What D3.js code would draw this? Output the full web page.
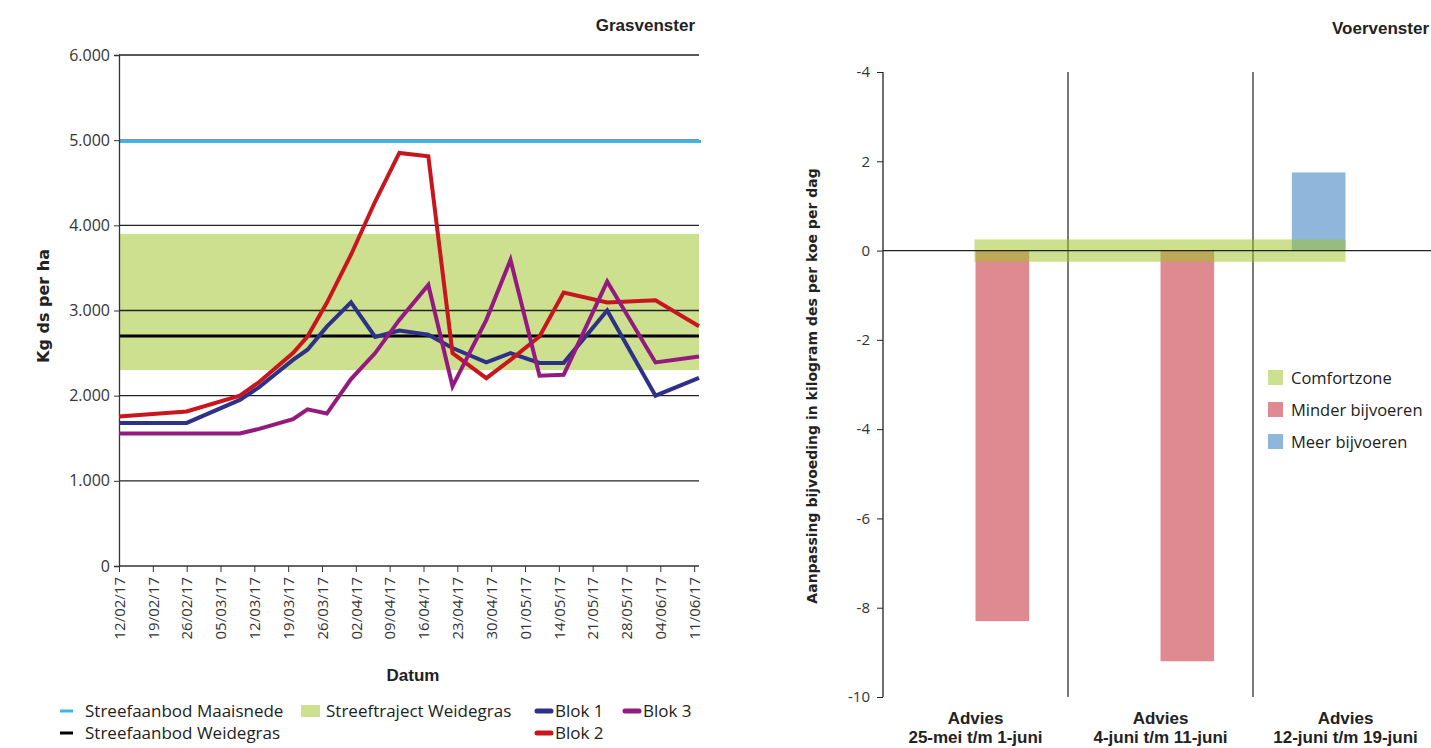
<!DOCTYPE html>
<html>
<head>
<meta charset="utf-8">
<script src="https://cdnjs.cloudflare.com/ajax/libs/d3/7.8.5/d3.min.js"></script>
<style>
  body { margin: 0; background: #fff; }
  svg { display: block; }
  .tick text { font-family: "Open Sans", sans-serif; fill: #333; }
</style>
</head>
<body>
<div id="chart"></div>
<script>
// ---- Grasvenster (left) ----
var meetDatums = ["2017-02-12","2017-02-26","2017-03-09","2017-03-13","2017-03-20","2017-03-23",
  "2017-03-27","2017-04-01","2017-04-06","2017-04-11","2017-04-17","2017-04-22","2017-04-29",
  "2017-05-04","2017-05-10","2017-05-15","2017-05-24","2017-06-03","2017-06-12"];
var blok1 = [1680,1680,1950,2100,2420,2540,2810,3095,2690,2765,2715,2560,2390,2500,2385,2385,3000,2000,2210];
var blok2 = [1755,1815,2000,2160,2500,2695,3090,3655,4280,4850,4810,2500,2205,2420,2695,3210,3095,3120,2815];
var blok3 = [1555,1555,1555,1610,1725,1840,1790,2195,2500,2890,3300,2110,2890,3595,2235,2245,3340,2390,2460];
var xTickLabels = ["12/02/17","19/02/17","26/02/17","05/03/17","12/03/17","19/03/17","26/03/17",
  "02/04/17","09/04/17","16/04/17","23/04/17","30/04/17","01/05/17","14/05/17","21/05/17",
  "28/05/17","04/06/17","11/06/17"];
var yTicksGras = [0,1000,2000,3000,4000,5000,6000];
var streefMaaisnede = 4985;
var streefWeidegras = 2700;
var trajectWeidegras = [2300, 3900];

// ---- Voervenster (right) ----
var adviesCats = ["25-mei t/m 1-juni", "4-juni t/m 11-juni", "12-juni t/m 19-juni"];
var minderBijvoeren = [-8.3, -9.2, 0];
var meerBijvoeren = [0, 0, 1.75];
var comfortzone = [-0.25, 0.25];
var yTicksVoer = [-10,-8,-6,-4,-2,0,2,4];
var yTickLabelsVoer = ["-10","-8","-6","-4","-2","0","2","-4"];

var W = 1431, H = 748;
var svg = d3.select("#chart").append("svg").attr("width", W).attr("height", H);

var nl = d3.formatLocale({decimal: ",", thousands: ".", grouping: [3], currency: ["€", ""]});
var parse = d3.timeParse("%Y-%m-%d");
var narrow = "'Liberation Sans Narrow', 'Liberation Sans', sans-serif";
var legFont = "'Open Sans', sans-serif";

// ================= left chart =================
var L = {left: 119, right: 699, top: 55, bottom: 566};
var x = d3.scaleTime().domain([parse("2017-02-12"), parse("2017-06-12")]).range([L.left, L.right]);
var y = d3.scaleLinear().domain([0, 6000]).range([L.bottom, L.top]);
var g = svg.append("g");

// streeftraject band
g.append("rect")
  .attr("x", L.left).attr("width", L.right - L.left)
  .attr("y", y(trajectWeidegras[1]))
  .attr("height", y(trajectWeidegras[0]) - y(trajectWeidegras[1]))
  .attr("fill", "#cce08f");

// gridlines
g.selectAll(".grid").data(yTicksGras.slice(1)).enter().append("line")
  .attr("x1", L.left).attr("x2", L.right)
  .attr("y1", function(d) { return y(d); }).attr("y2", function(d) { return y(d); })
  .attr("stroke", "#222").attr("stroke-width", 1.3);

g.append("line")
  .attr("x1", L.left).attr("x2", L.right + 2)
  .attr("y1", y(streefMaaisnede)).attr("y2", y(streefMaaisnede))
  .attr("stroke", "#3db5e6").attr("stroke-width", 3);
g.append("line")
  .attr("x1", L.left).attr("x2", L.right)
  .attr("y1", y(streefWeidegras)).attr("y2", y(streefWeidegras))
  .attr("stroke", "#000").attr("stroke-width", 3);

var yAxis = d3.axisLeft(y).tickValues(yTicksGras).tickSize(5).tickPadding(4)
  .tickFormat(nl.format(","));
g.append("g").attr("transform", "translate(" + L.left + ",0)").call(yAxis)
  .call(function(s) {
    s.select(".domain").attr("stroke", "#333").attr("stroke-width", 1.3);
    s.selectAll(".tick line").attr("stroke", "#333");
    s.selectAll(".tick text").attr("font-size", 16);
  });

var weekTicks = xTickLabels.map(function(d, i) { return d3.timeDay.offset(parse("2017-02-12"), 7 * i); });
var xAxis = d3.axisBottom(x).tickValues(weekTicks).tickSize(6)
  .tickFormat(function(d, i) { return xTickLabels[i]; });
g.append("g").attr("transform", "translate(0," + L.bottom + ")").call(xAxis)
  .call(function(s) {
    s.select(".domain").attr("d", "M" + L.left + ",0H" + L.right).attr("stroke", "#333").attr("stroke-width", 1.3);
    s.selectAll(".tick line").attr("stroke", "#333");
    s.selectAll(".tick text").attr("font-size", 15)
      .attr("text-anchor", "end").attr("dy", "0.35em")
      .attr("transform", "translate(0,11) rotate(-90)")
      .attr("x", 0).attr("y", 0);
  });

var line = d3.line()
  .x(function(d) { return x(parse(d.date)); })
  .y(function(d) { return y(d.v); });
var series = [
  {name: "Blok 1", values: blok1, color: "#2d3187"},
  {name: "Blok 2", values: blok2, color: "#c8161e"},
  {name: "Blok 3", values: blok3, color: "#941a80"}
];
series.forEach(function(s) {
  var pts = meetDatums.map(function(d, i) { return {date: d, v: s.values[i]}; });
  g.append("path").attr("d", line(pts))
    .attr("fill", "none").attr("stroke", s.color).attr("stroke-width", 4);
});

g.append("text").attr("x", 695).attr("y", 31).attr("text-anchor", "end")
  .attr("font-family", narrow)
  .attr("font-weight", "bold").attr("font-size", 17).attr("fill", "#222").text("Grasvenster");
g.append("text").attr("x", 413).attr("y", 681).attr("text-anchor", "middle")
  .attr("font-family", narrow)
  .attr("font-weight", "bold").attr("font-size", 17).attr("fill", "#222").text("Datum");
g.append("text").attr("transform", "translate(49,306) rotate(-90)").attr("text-anchor", "middle")
  .attr("font-family", "'DejaVu Sans', sans-serif")
  .attr("font-weight", "bold").attr("font-size", 16).attr("fill", "#222").text("Kg ds per ha");

// legend left
var legL = [
  {label: "Streefaanbod Maaisnede", x: 60, y: 711, type: "thin", color: "#3db5e6"},
  {label: "Streefaanbod Weidegras", x: 60, y: 733, type: "thin", color: "#000"},
  {label: "Streeftraject Weidegras", x: 301, y: 711, type: "box", color: "#cce08f"},
  {label: "Blok 1", x: 535, y: 711, type: "round", color: "#2d3187"},
  {label: "Blok 2", x: 535, y: 733, type: "round", color: "#c8161e"},
  {label: "Blok 3", x: 623, y: 711, type: "round", color: "#941a80"}
];
legL.forEach(function(d) {
  if (d.type === "thin") {
    g.append("line").attr("x1", d.x).attr("x2", d.x + 13).attr("y1", d.y).attr("y2", d.y)
      .attr("stroke", d.color).attr("stroke-width", 3);
  } else if (d.type === "box") {
    g.append("rect").attr("x", d.x).attr("y", d.y - 6).attr("width", 19).attr("height", 12).attr("fill", d.color);
  } else {
    g.append("line").attr("x1", d.x + 2).attr("x2", d.x + 16).attr("y1", d.y).attr("y2", d.y)
      .attr("stroke", d.color).attr("stroke-width", 5).attr("stroke-linecap", "round");
  }
  var tx = d.type === "round" ? d.x + 20 : d.x + 25;
  g.append("text").attr("x", tx).attr("y", d.y + 6).attr("font-family", legFont)
    .attr("font-size", 17).attr("fill", "#222").text(d.label);
});

// ================= right chart =================
var R = {left: 883, right: 1438, top: 72, bottom: 697};
var xb = d3.scaleBand().domain(adviesCats).range([R.left, R.right]);
var bw = xb.bandwidth();
// grouped sub-bands: meer left, minder right, group centred in band
var xs = d3.scaleBand().domain(["meer", "minder"]).range([bw * 0.21, bw * 0.79]);
var yv = d3.scaleLinear().domain([-10, 4]).range([R.bottom, R.top]);
var r = svg.append("g");

// separators between advies periods
r.selectAll(".sep").data(adviesCats.slice(1)).enter().append("line")
  .attr("x1", function(d) { return xb(d); }).attr("x2", function(d) { return xb(d); })
  .attr("y1", R.top).attr("y2", R.bottom)
  .attr("stroke", "#222").attr("stroke-width", 1.2);

r.selectAll(".minder").data(adviesCats).enter().append("rect")
  .attr("x", function(d) { return xb(d) + xs("minder"); }).attr("width", xs.bandwidth())
  .attr("y", yv(0))
  .attr("height", function(d, i) { return yv(minderBijvoeren[i]) - yv(0); })
  .attr("fill", "#df8991");
r.selectAll(".meer").data(adviesCats).enter().append("rect")
  .attr("x", function(d) { return xb(d) + xs("meer"); }).attr("width", xs.bandwidth())
  .attr("y", function(d, i) { return yv(meerBijvoeren[i]); })
  .attr("height", function(d, i) { return yv(0) - yv(meerBijvoeren[i]); })
  .attr("fill", "#8fb7db");

// comfortzone band (translucent, on top of bars)
var cz0 = xb(adviesCats[0]) + xs("minder") - 1, cz1 = xb(adviesCats[2]) + xs("minder");
r.append("rect")
  .attr("x", cz0).attr("width", cz1 - cz0)
  .attr("y", yv(comfortzone[1])).attr("height", yv(comfortzone[0]) - yv(comfortzone[1]))
  .attr("fill", "rgb(157,195,39)").attr("fill-opacity", 0.52);

r.append("line").attr("x1", R.left).attr("x2", W).attr("y1", yv(0)).attr("y2", yv(0))
  .attr("stroke", "#222").attr("stroke-width", 1.3);

var yAxisV = d3.axisLeft(yv).tickValues(yTicksVoer).tickSize(6).tickPadding(7)
  .tickFormat(function(d, i) { return yTickLabelsVoer[i]; });
r.append("g").attr("transform", "translate(" + R.left + ",0)").call(yAxisV)
  .call(function(s) {
    s.select(".domain").attr("d", "M0," + R.top + "V" + R.bottom).attr("stroke", "#222").attr("stroke-width", 1.3);
    s.selectAll(".tick line").attr("stroke", "#222");
    s.selectAll(".tick text").attr("font-size", 15);
  });

// category labels
adviesCats.forEach(function(c) {
  var cx = xb(c) + bw / 2;
  r.append("text").attr("x", cx).attr("y", 724).attr("text-anchor", "middle")
    .attr("font-family", narrow)
    .attr("font-weight", "bold").attr("font-size", 17).attr("fill", "#222").text("Advies");
  r.append("text").attr("x", cx).attr("y", 743).attr("text-anchor", "middle")
    .attr("font-family", narrow)
    .attr("font-weight", "bold").attr("font-size", 17).attr("fill", "#222").text(c);
});

r.append("text").attr("x", 1429).attr("y", 34).attr("text-anchor", "end")
  .attr("font-family", narrow)
  .attr("font-weight", "bold").attr("font-size", 17).attr("fill", "#222").text("Voervenster");
r.append("text").attr("transform", "translate(817,386) rotate(-90)").attr("text-anchor", "middle")
  .attr("font-family", "'DejaVu Sans', sans-serif")
  .attr("font-weight", "bold").attr("font-size", 14).attr("fill", "#222")
  .text("Aanpassing bijvoeding in kilogram des per koe per dag");

var legR = [
  {label: "Comfortzone", color: "#cce08f"},
  {label: "Minder bijvoeren", color: "#df8991"},
  {label: "Meer bijvoeren", color: "#8fb7db"}
];
legR.forEach(function(d, i) {
  r.append("rect").attr("x", 1268).attr("y", 370 + i * 32).attr("width", 15).attr("height", 15).attr("fill", d.color);
  r.append("text").attr("x", 1291).attr("y", 384 + i * 32).attr("font-family", legFont)
    .attr("font-size", 16.5).attr("fill", "#222").text(d.label);
});
</script>
</body>
</html>
